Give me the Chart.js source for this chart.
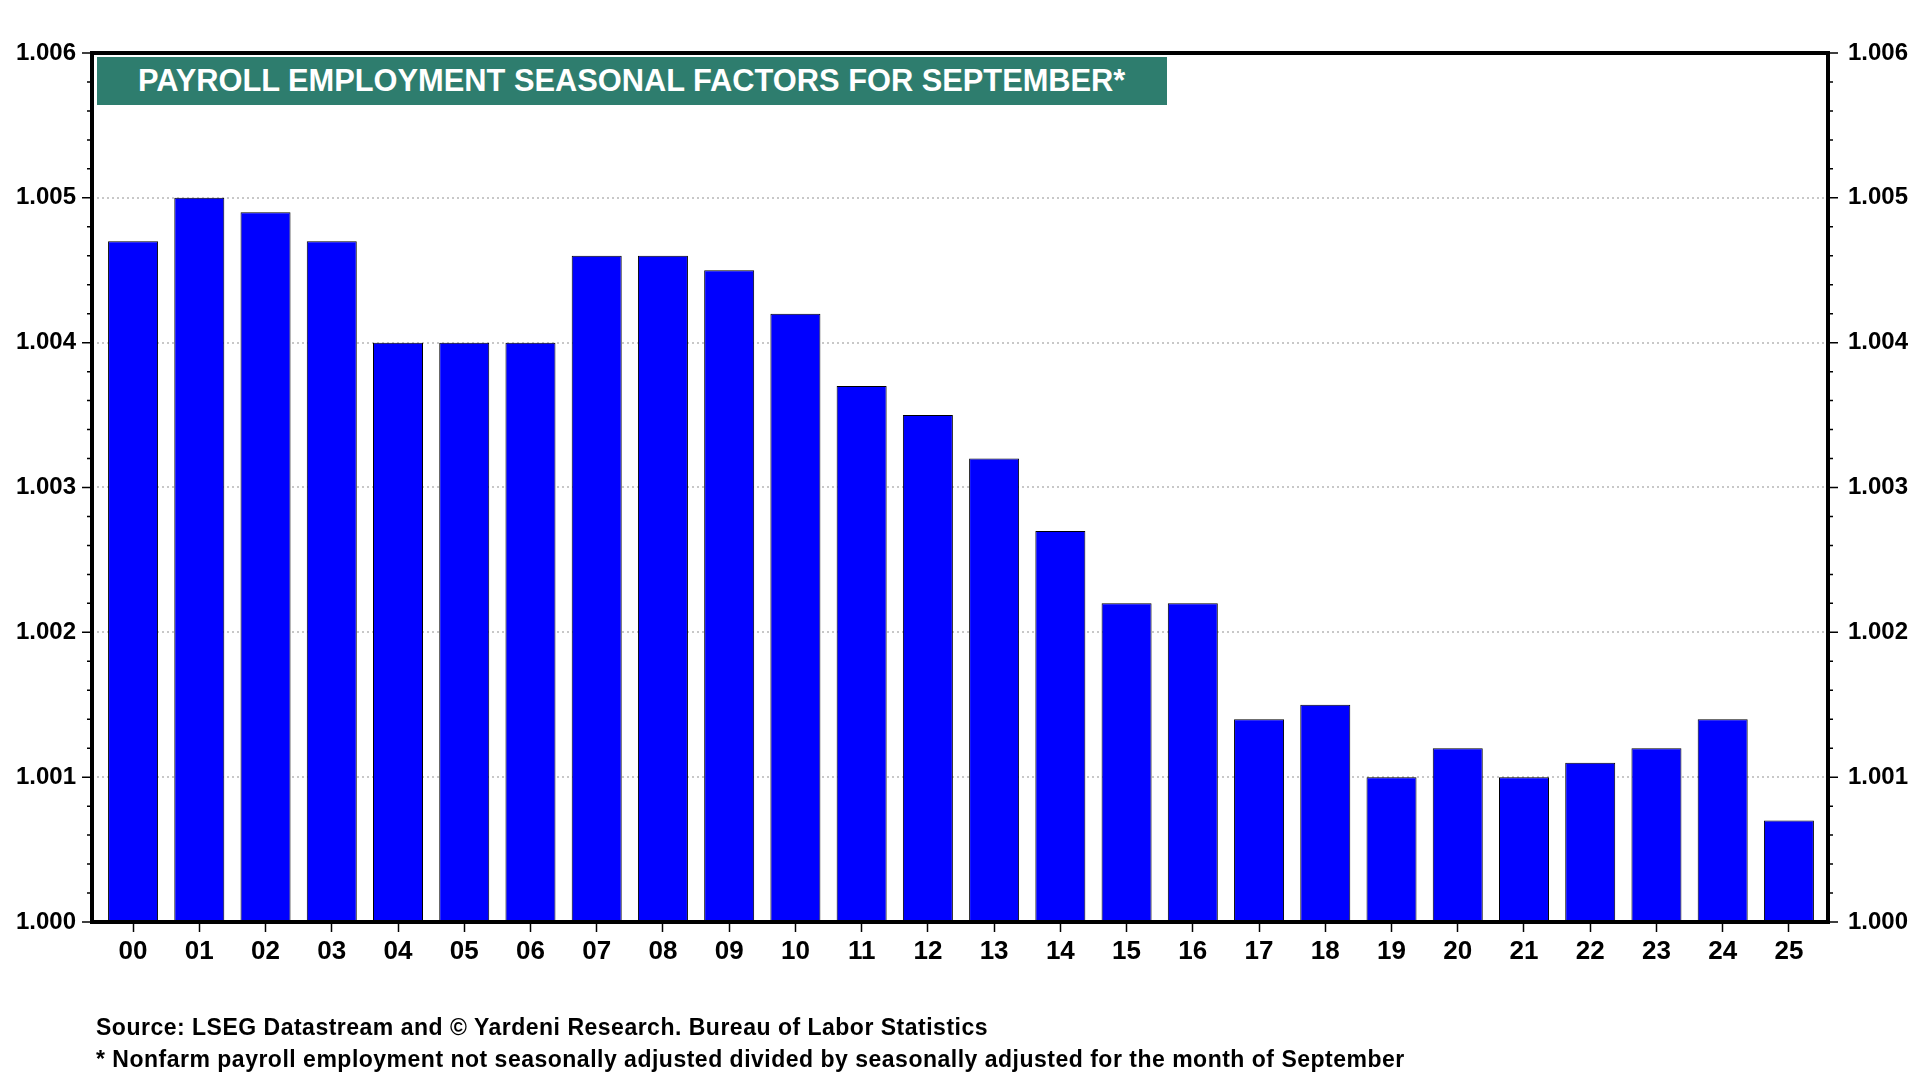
<!DOCTYPE html>
<html>
<head>
<meta charset="utf-8">
<title>Payroll Employment Seasonal Factors for September</title>
<script src="https://cdn.jsdelivr.net/npm/chart.js@4"></script>
<style>
  body { margin: 0; background: #fff; }
  #wrap { position: relative; width: 1920px; height: 1080px; overflow: hidden; font-family: "Liberation Sans", Arial, sans-serif; }
  #chart { position: absolute; left: 0; top: 0; }
  #title {
    position: absolute; left: 97px; top: 57px; width: 1070px; height: 48px;
    background: #2e7d6e; color: #fff; font-weight: bold; font-size: 30.8px;
    line-height: 48px; padding-left: 41px; box-sizing: border-box; white-space: nowrap;
  }
  .note { position: absolute; left: 96px; font-weight: bold; font-size: 23px; letter-spacing: 0.5px; color: #000; white-space: nowrap; }
</style>
</head>
<body>
<div id="wrap">
  <canvas id="chart" width="1920" height="1080"></canvas>
  <div id="title">PAYROLL EMPLOYMENT SEASONAL FACTORS FOR SEPTEMBER*</div>
  <div class="note" style="top:1014px">Source: LSEG Datastream and © Yardeni Research. Bureau of Labor Statistics</div>
  <div class="note" style="top:1046px">* Nonfarm payroll employment not seasonally adjusted divided by seasonally adjusted for the month of September</div>
</div>
<script>
const years = ['00', '01', '02', '03', '04', '05', '06', '07', '08', '09', '10', '11', '12',
               '13', '14', '15', '16', '17', '18', '19', '20', '21', '22', '23', '24', '25'];
const factors = [1.0047, 1.0050, 1.0049, 1.0047, 1.0040, 1.0040, 1.0040, 1.0046, 1.0046,
                 1.0045, 1.0042, 1.0037, 1.0035, 1.0032, 1.0027, 1.0022, 1.0022, 1.0014,
                 1.0015, 1.0010, 1.0012, 1.0010, 1.0011, 1.0012, 1.0014, 1.0007];
const yMin = 1.000;
const yMax = 1.006;

const isMajor = v => Math.abs(v * 1000 - Math.round(v * 1000)) < 1e-6;

// frame round the plot plus the small tick marks on both value axes
const framePlugin = {
    id: 'frame',
    afterDraw(chart) {
        const { ctx, chartArea: a } = chart;
        const y = chart.scales.y;
        ctx.save();
        ctx.strokeStyle = '#000';
        ctx.lineWidth = 1.5;
        y.ticks.forEach(t => {
            const py = y.getPixelForValue(t.value);
            const len = isMajor(t.value) ? 10 : 5;
            ctx.beginPath();
            ctx.moveTo(a.left - len, py);
            ctx.lineTo(a.left, py);
            ctx.moveTo(a.right, py);
            ctx.lineTo(a.right + len, py);
            ctx.stroke();
        });
        ctx.lineWidth = 4;
        ctx.strokeRect(a.left, a.top, a.right - a.left, a.bottom - a.top);
        ctx.restore();
    }
};

Chart.defaults.font.family = '"Liberation Sans", Arial, sans-serif';
Chart.defaults.font.weight = 'bold';
Chart.defaults.color = '#000';

const yTicks = {
    stepSize: 0.0002,
    autoSkip: false,
    font: { size: 24, weight: 'bold' },
    callback: v => isMajor(v) ? v.toFixed(3) : ''
};

new Chart(document.getElementById('chart').getContext('2d'), {
    type: 'bar',
    data: {
        datasets: [{
            data: factors.map((v, i) => ({ x: i, y: v })),
            backgroundColor: '#0000ff',
            borderColor: '#000000',
            borderWidth: 1,
            categoryPercentage: 1,
            barPercentage: 0.755
        }]
    },
    options: {
        responsive: false,
        devicePixelRatio: 1,
        animation: false,
        layout: { padding: { top: 53, left: 0, right: 0, bottom: 0 } },
        plugins: { legend: { display: false }, tooltip: { enabled: false } },
        scales: {
            x: {
                type: 'linear',
                min: -0.62,
                max: 25.59,
                offset: false,
                grid: { offset: false, drawOnChartArea: false, drawTicks: true, tickLength: 10, tickColor: '#000', tickWidth: 1.5 },
                border: { display: false },
                ticks: {
                    stepSize: 1,
                    autoSkip: false,
                    maxRotation: 0,
                    padding: 4,
                    font: { size: 26, weight: 'bold' },
                    callback: v => years[Math.round(v)] ?? ''
                },
                // one tick per year, centred under each bar
                afterBuildTicks: s => { s.ticks = years.map((y, i) => ({ value: i })); },
                afterFit: s => { s.height = 158; }
            },
            y: {
                position: 'left',
                min: yMin,
                max: yMax,
                grid: {
                    drawTicks: false,
                    lineWidth: 2,
                    color: c => (c.tick && isMajor(c.tick.value) && c.tick.value > yMin + 1e-6 && c.tick.value < yMax - 1e-6)
                        ? '#c8c8c8' : 'rgba(0,0,0,0)'
                },
                border: { display: false, dash: [2, 3] },
                ticks: Object.assign({ padding: 16 }, yTicks),
                afterFit: s => { s.width = 92; }
            },
            y2: {
                position: 'right',
                min: yMin,
                max: yMax,
                grid: { drawOnChartArea: false, drawTicks: false },
                border: { display: false },
                ticks: Object.assign({ padding: 20 }, yTicks),
                afterFit: s => { s.width = 92; }
            }
        }
    },
    plugins: [framePlugin]
});
</script>
</body>
</html>
